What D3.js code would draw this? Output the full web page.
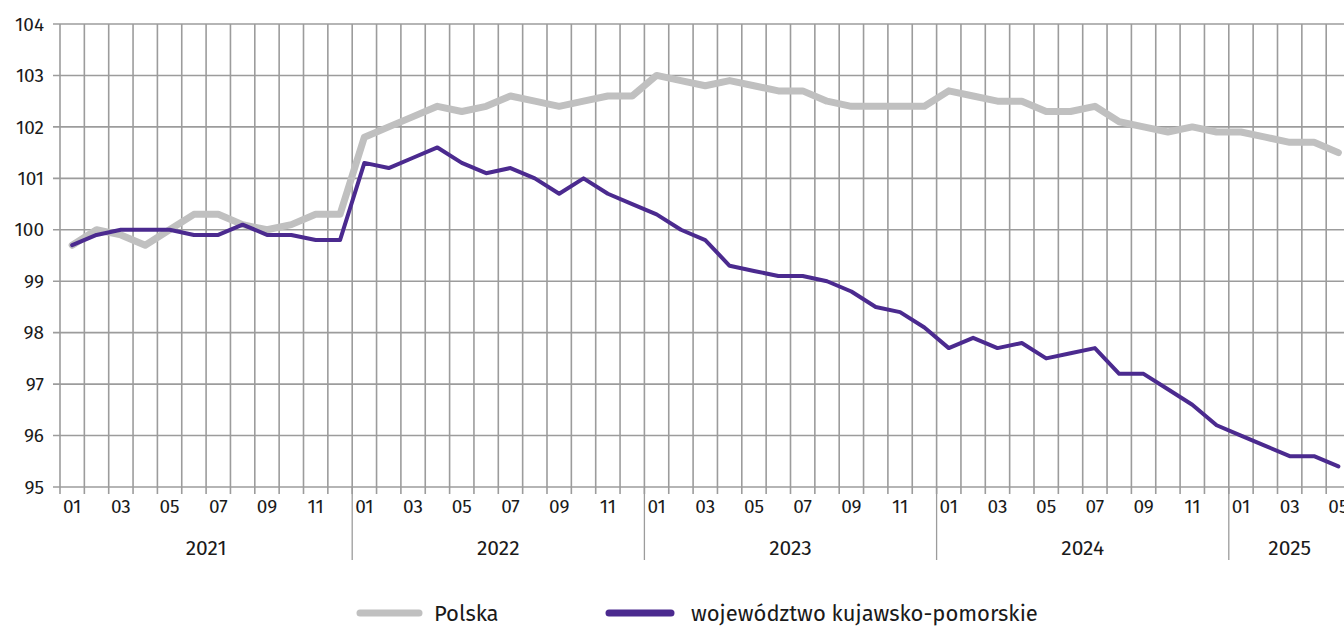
<!DOCTYPE html>
<html><head><meta charset="utf-8">
<script src="https://cdn.jsdelivr.net/npm/d3@7"></script>
<style>
html,body{margin:0;padding:0;background:#fff;overflow:hidden}
text{font-family:"Fira Sans","Roboto","Open Sans",sans-serif;fill:#1a1a1a}
</style></head><body>
<svg id="chart" width="1344" height="628"></svg>
<script>
const years = [2021, 2022, 2023, 2024, 2025];
const monthsPerYear = [12, 12, 12, 12, 5];
const yTicks = [95, 96, 97, 98, 99, 100, 101, 102, 103, 104];
const seriesNames = ["Polska", "województwo kujawsko-pomorskie"];
const polska = [
  99.7,100.0,99.9,99.7,100.0,100.3,100.3,100.1,100.0,100.1,100.3,100.3,
  101.8,102.0,102.2,102.4,102.3,102.4,102.6,102.5,102.4,102.5,102.6,102.6,
  103.0,102.9,102.8,102.9,102.8,102.7,102.7,102.5,102.4,102.4,102.4,102.4,
  102.7,102.6,102.5,102.5,102.3,102.3,102.4,102.1,102.0,101.9,102.0,101.9,
  101.9,101.8,101.7,101.7,101.5
];
const kujawsko = [
  99.7,99.9,100.0,100.0,100.0,99.9,99.9,100.1,99.9,99.9,99.8,99.8,
  101.3,101.2,101.4,101.6,101.3,101.1,101.2,101.0,100.7,101.0,100.7,100.5,
  100.3,100.0,99.8,99.3,99.2,99.1,99.1,99.0,98.8,98.5,98.4,98.1,
  97.7,97.9,97.7,97.8,97.5,97.6,97.7,97.2,97.2,96.9,96.6,96.2,
  96.0,95.8,95.6,95.6,95.4
];

(function () {
const months = [];
years.forEach((yr, yi) => {
  for (let m = 1; m <= monthsPerYear[yi]; m++) months.push({year: yr, month: m});
});
months.forEach((d, i) => { d.polska = polska[i]; d.kujawsko = kujawsko[i]; d.i = i; });

const svg = d3.select("#chart");
const mLeft = 60, mTop = 24, mBottom = 487;
const bw = 24.35;
const x = d3.scaleBand().domain(months.map(d => d.i)).range([mLeft, mLeft + bw * months.length]).padding(0);
const y = d3.scaleLinear().domain([95, 104]).range([mBottom, mTop]);
const cx = i => x(i) + x.bandwidth() / 2;

const grid = svg.append("g");
const gridColor = "#9c9c9c";
grid.selectAll("line.h").data(yTicks).join("line")
  .attr("x1", mLeft - 7).attr("x2", 1344)
  .attr("y1", d => y(d)).attr("y2", d => y(d))
  .attr("stroke", gridColor).attr("stroke-width", 1.6);
const bounds = d3.range(months.length + 1).map(i => mLeft + i * x.bandwidth());
grid.selectAll("line.v").data(bounds).join("line")
  .attr("x1", d => d).attr("x2", d => d)
  .attr("y1", mTop).attr("y2", mBottom + 7)
  .attr("stroke", gridColor).attr("stroke-width", 1.6);

let acc = 0;
const sepX = [];
const yearSpans = [];
years.forEach((yr, yi) => {
  const s = mLeft + acc * x.bandwidth();
  acc += monthsPerYear[yi];
  const e = mLeft + acc * x.bandwidth();
  yearSpans.push({year: yr, s, e});
  if (yi > 0) sepX.push(s);
});
svg.selectAll("line.sep").data(sepX).join("line")
  .attr("x1", d => d).attr("x2", d => d)
  .attr("y1", mBottom).attr("y2", 560)
  .attr("stroke", "#9c9c9c").attr("stroke-width", 1.3);

svg.selectAll("text.yl").data(yTicks).join("text")
  .attr("x", 44).attr("y", d => y(d)).attr("dy", "0.35em")
  .attr("text-anchor", "end").attr("font-size", 19).text(d => d);

svg.selectAll("text.ml").data(months.filter(d => d.month % 2 === 1)).join("text")
  .attr("x", d => cx(d.i)).attr("y", 513)
  .attr("text-anchor", "middle").attr("font-size", 19)
  .text(d => String(d.month).padStart(2, "0"));

svg.selectAll("text.yr").data(yearSpans).join("text")
  .attr("x", d => (d.s + d.e) / 2).attr("y", 555)
  .attr("text-anchor", "middle").attr("font-size", 21).text(d => d.year);

const lineP = d3.line().x(d => cx(d.i)).y(d => y(d.polska));
const lineK = d3.line().x(d => cx(d.i)).y(d => y(d.kujawsko));
svg.append("path").datum(months).attr("d", lineP)
  .attr("fill", "none").attr("stroke", "#c0c0c0").attr("stroke-width", 7)
  .attr("stroke-linejoin", "round").attr("stroke-linecap", "round");
svg.append("path").datum(months).attr("d", lineK)
  .attr("fill", "none").attr("stroke", "#4b2a8f").attr("stroke-width", 4)
  .attr("stroke-linejoin", "round").attr("stroke-linecap", "round");

const legend = [
  {name: seriesNames[0], color: "#c0c0c0", x1: 360, x2: 419, tx: 434},
  {name: seriesNames[1], color: "#4b2a8f", x1: 609, x2: 671, tx: 691}
];
const lg = svg.selectAll("g.lg").data(legend).join("g");
lg.append("line").attr("x1", d => d.x1).attr("x2", d => d.x2).attr("y1", 613).attr("y2", 613)
  .attr("stroke", d => d.color).attr("stroke-width", 7).attr("stroke-linecap", "round");
lg.append("text").attr("x", d => d.tx).attr("y", 621).attr("font-size", 22).text(d => d.name);
})();
</script>
</body></html>
